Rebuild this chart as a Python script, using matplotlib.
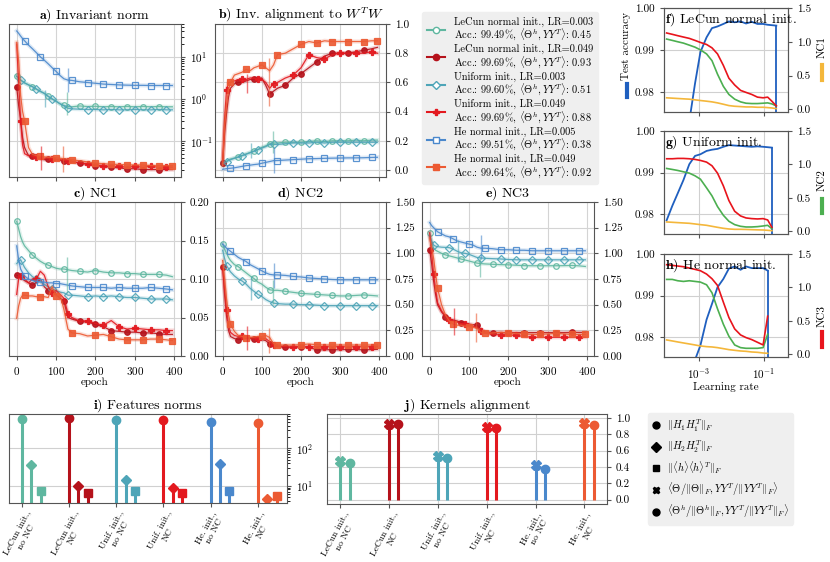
import matplotlib
matplotlib.use('Agg')
import matplotlib.pyplot as plt
from matplotlib.lines import Line2D
from matplotlib.ticker import FormatStrFormatter
import numpy as np

plt.rcParams['font.family'] = 'cmr10'
plt.rcParams['mathtext.fontset'] = 'cm'
plt.rcParams['axes.formatter.use_mathtext'] = True
plt.rcParams['axes.unicode_minus'] = False

# ---------------- training runs (panels a-e) ----------------
names = ['LeCun normal init., LR=0.003', 'LeCun normal init., LR=0.049',
         'Uniform init., LR=0.003', 'Uniform init., LR=0.049',
         'He normal init., LR=0.005', 'He normal init., LR=0.049']
test_acc = ['99.49', '99.69', '99.60', '99.69', '99.51', '99.64']
kernel_align = ['0.45', '0.93', '0.51', '0.88', '0.38', '0.92']
colors = ['#5fb7a0', '#b5121b', '#4ea5b8', '#e3191f', '#4a88cc', '#ec5a33']
markers = ['o', 'o', 'D', 'P', 's', 's']
filled = [False, True, False, True, False, True]

epochs = [0, 5, 10, 15, 20, 30, 40, 50, 60, 70, 80, 90, 100, 110, 120, 130, 140,
          160, 180, 200, 220, 240, 260, 280, 300, 320, 340, 360, 380, 395]
mark_idx = [[0, 6, 10, 14, 17, 19, 21, 23, 25, 27],
            [0, 6, 10, 14, 17, 19, 21, 23, 25, 27],
            [2, 7, 11, 15, 18, 20, 22, 24, 26, 28],
            [2, 7, 11, 15, 18, 20, 22, 24, 26, 28],
            [4, 8, 12, 16, 18, 20, 22, 24, 26, 28],
            [4, 8, 12, 16, 19, 21, 23, 25, 27, 29]]
mark_epoch = [128, None, 72, 62, 130, 118]

inv_norm = [
    [3.5, 3.1, 2.8, 2.6, 2.4, 2.15, 1.95, 1.7, 1.5, 1.36, 1.15, 1.0, 0.88, 0.76, 0.7, 0.66, 0.65,
     0.68, 0.66, 0.67, 0.65, 0.66, 0.65, 0.66, 0.65, 0.66, 0.65, 0.66, 0.65, 0.65],
    [1.9, 0.7, 0.32, 0.12, 0.07, 0.045, 0.043, 0.04, 0.038, 0.036, 0.037, 0.036, 0.036, 0.035, 0.034,
     0.033, 0.032, 0.03, 0.028, 0.026, 0.025, 0.024, 0.023, 0.022, 0.022, 0.021, 0.021, 0.021, 0.021, 0.021],
    [3.4, 3.1, 2.8, 2.6, 2.4, 2.15, 1.95, 1.72, 1.52, 1.35, 1.15, 1.0, 0.88, 0.77, 0.68, 0.6, 0.58,
     0.57, 0.56, 0.56, 0.55, 0.56, 0.55, 0.55, 0.56, 0.55, 0.55, 0.56, 0.55, 0.55],
    [20, 2.5, 0.3, 0.08, 0.05, 0.045, 0.043, 0.042, 0.04, 0.039, 0.04, 0.038, 0.037, 0.036, 0.035,
     0.034, 0.033, 0.03, 0.029, 0.027, 0.026, 0.025, 0.025, 0.024, 0.025, 0.024, 0.025, 0.024, 0.024, 0.024],
    [41, 36, 31, 27, 24, 19, 15.5, 12.5, 10, 8.3, 6.8, 5.5, 4.5, 3.6, 3.0, 2.8, 2.75,
     2.55, 2.45, 2.35, 2.25, 2.2, 2.15, 2.12, 2.1, 2.1, 2.08, 2.08, 2.08, 2.08],
    [22, 8, 1.2, 0.5, 0.3, 0.07, 0.048, 0.045, 0.043, 0.042, 0.041, 0.041, 0.04, 0.039, 0.038,
     0.037, 0.036, 0.034, 0.032, 0.03, 0.029, 0.028, 0.028, 0.027, 0.027, 0.027, 0.026, 0.026, 0.026, 0.026],
]
inv_align = [
    [0.05, 0.055, 0.06, 0.07, 0.075, 0.082, 0.09, 0.1, 0.11, 0.12, 0.13, 0.14, 0.155, 0.165, 0.18,
     0.185, 0.185, 0.19, 0.19, 0.19, 0.195, 0.2, 0.195, 0.2, 0.2, 0.2, 0.205, 0.2, 0.205, 0.205],
    [0.05, 0.25, 0.39, 0.5, 0.56, 0.59, 0.6, 0.6, 0.61, 0.62, 0.62, 0.63, 0.63, 0.58, 0.52,
     0.54, 0.56, 0.58, 0.63, 0.66, 0.7, 0.74, 0.78, 0.8, 0.8, 0.8, 0.81, 0.82, 0.83, 0.84],
    [0.045, 0.05, 0.055, 0.065, 0.07, 0.08, 0.088, 0.098, 0.108, 0.118, 0.128, 0.14, 0.15, 0.16, 0.175,
     0.175, 0.175, 0.18, 0.185, 0.185, 0.185, 0.19, 0.185, 0.19, 0.19, 0.19, 0.19, 0.19, 0.19, 0.19],
    [0.05, 0.35, 0.55, 0.6, 0.6, 0.61, 0.62, 0.62, 0.62, 0.63, 0.63, 0.62, 0.62, 0.6, 0.56,
     0.59, 0.6, 0.63, 0.65, 0.7, 0.79, 0.77, 0.76, 0.79, 0.8, 0.8, 0.8, 0.8, 0.81, 0.8],
    [0.005, 0.007, 0.009, 0.011, 0.012, 0.015, 0.02, 0.025, 0.03, 0.033, 0.037, 0.04, 0.046, 0.052, 0.058,
     0.064, 0.065, 0.068, 0.071, 0.074, 0.077, 0.078, 0.08, 0.081, 0.082, 0.083, 0.083, 0.084, 0.086, 0.087],
    [0.03, 0.3, 0.45, 0.55, 0.6, 0.65, 0.66, 0.67, 0.69, 0.68, 0.7, 0.71, 0.72, 0.7, 0.68,
     0.72, 0.79, 0.8, 0.83, 0.86, 0.88, 0.87, 0.885, 0.88, 0.88, 0.88, 0.88, 0.88, 0.885, 0.885],
]
nc1 = [
    [0.175, 0.165, 0.155, 0.148, 0.143, 0.137, 0.131, 0.127, 0.123, 0.12, 0.118, 0.116, 0.114, 0.113, 0.113,
     0.112, 0.111, 0.11, 0.109, 0.111, 0.109, 0.108, 0.108, 0.107, 0.107, 0.106, 0.106, 0.106, 0.105, 0.103],
    [0.105, 0.104, 0.103, 0.1, 0.098, 0.095, 0.092, 0.095, 0.1, 0.09, 0.085, 0.082, 0.08, 0.075, 0.071,
     0.05, 0.048, 0.045, 0.044, 0.041, 0.038, 0.033, 0.032, 0.031, 0.031, 0.03, 0.03, 0.029, 0.028, 0.028],
    [0.12, 0.123, 0.125, 0.12, 0.115, 0.108, 0.103, 0.1, 0.097, 0.093, 0.09, 0.087, 0.085, 0.083, 0.082,
     0.079, 0.079, 0.078, 0.077, 0.078, 0.077, 0.078, 0.077, 0.076, 0.076, 0.075, 0.074, 0.074, 0.074, 0.073],
    [0.08, 0.1, 0.104, 0.105, 0.1, 0.095, 0.1, 0.1, 0.11, 0.105, 0.09, 0.082, 0.085, 0.08, 0.075,
     0.055, 0.05, 0.045, 0.046, 0.042, 0.04, 0.046, 0.038, 0.035, 0.036, 0.035, 0.034, 0.034, 0.033, 0.033],
    [0.143, 0.125, 0.113, 0.108, 0.104, 0.1, 0.098, 0.097, 0.096, 0.096, 0.095, 0.095, 0.094, 0.094, 0.093,
     0.092, 0.091, 0.09, 0.089, 0.089, 0.089, 0.088, 0.089, 0.088, 0.088, 0.088, 0.089, 0.088, 0.087, 0.086],
    [0.049, 0.065, 0.075, 0.079, 0.079, 0.078, 0.078, 0.077, 0.077, 0.077, 0.076, 0.09, 0.078, 0.08, 0.06,
     0.035, 0.03, 0.029, 0.026, 0.027, 0.028, 0.025, 0.022, 0.021, 0.021, 0.021, 0.022, 0.022, 0.021, 0.02],
]
nc2 = [
    [1.09, 1.04, 1.0, 0.96, 0.93, 0.89, 0.87, 0.84, 0.81, 0.78, 0.755, 0.72, 0.7, 0.67, 0.645,
     0.64, 0.64, 0.63, 0.62, 0.61, 0.605, 0.6, 0.595, 0.59, 0.585, 0.585, 0.59, 0.595, 0.59, 0.585],
    [0.87, 0.6, 0.39, 0.25, 0.19, 0.17, 0.16, 0.165, 0.17, 0.17, 0.17, 0.165, 0.16, 0.15, 0.117,
     0.1, 0.09, 0.085, 0.09, 0.09, 0.085, 0.06, 0.06, 0.062, 0.06, 0.065, 0.062, 0.06, 0.062, 0.065],
    [1.03, 0.95, 0.88, 0.85, 0.82, 0.78, 0.75, 0.73, 0.7, 0.66, 0.63, 0.6, 0.58, 0.55, 0.53,
     0.515, 0.51, 0.505, 0.505, 0.5, 0.5, 0.495, 0.49, 0.49, 0.49, 0.49, 0.49, 0.49, 0.49, 0.49],
    [0.87, 0.65, 0.45, 0.3, 0.23, 0.2, 0.19, 0.195, 0.185, 0.18, 0.175, 0.17, 0.175, 0.17, 0.14,
     0.107, 0.1, 0.09, 0.085, 0.09, 0.09, 0.09, 0.09, 0.09, 0.09, 0.09, 0.09, 0.09, 0.09, 0.09],
    [1.09, 1.07, 1.05, 1.035, 1.02, 0.99, 0.96, 0.94, 0.92, 0.89, 0.87, 0.85, 0.83, 0.81, 0.795,
     0.79, 0.79, 0.785, 0.775, 0.77, 0.76, 0.755, 0.75, 0.745, 0.742, 0.742, 0.742, 0.742, 0.742, 0.742],
    [0.93, 0.75, 0.55, 0.4, 0.31, 0.24, 0.2, 0.19, 0.18, 0.18, 0.185, 0.19, 0.19, 0.2, 0.18,
     0.12, 0.107, 0.107, 0.107, 0.11, 0.117, 0.11, 0.107, 0.107, 0.107, 0.107, 0.107, 0.107, 0.107, 0.107],
]
nc3 = [
    [1.2, 1.1, 1.05, 1.03, 1.02, 1.0, 0.985, 0.975, 0.965, 0.955, 0.944, 0.935, 0.925, 0.915, 0.905,
     0.9, 0.897, 0.893, 0.89, 0.888, 0.884, 0.88, 0.879, 0.879, 0.879, 0.879, 0.88, 0.882, 0.878, 0.872],
    [1.035, 0.9, 0.73, 0.6, 0.5, 0.43, 0.384, 0.36, 0.35, 0.34, 0.325, 0.32, 0.31, 0.305, 0.3,
     0.26, 0.235, 0.228, 0.228, 0.228, 0.228, 0.228, 0.228, 0.228, 0.228, 0.228, 0.228, 0.23, 0.23, 0.23],
    [1.165, 1.12, 1.08, 1.07, 1.065, 1.06, 1.058, 1.055, 1.04, 1.02, 1.005, 1.0, 0.99, 0.975, 0.96,
     0.955, 0.952, 0.948, 0.945, 0.94, 0.937, 0.937, 0.937, 0.937, 0.937, 0.937, 0.937, 0.937, 0.937, 0.937],
    [1.2, 1.0, 0.8, 0.65, 0.52, 0.44, 0.39, 0.35, 0.34, 0.33, 0.315, 0.31, 0.3, 0.29, 0.28,
     0.24, 0.225, 0.21, 0.205, 0.205, 0.2, 0.19, 0.182, 0.182, 0.182, 0.182, 0.182, 0.182, 0.182, 0.182],
    [1.30, 1.27, 1.25, 1.23, 1.21, 1.19, 1.17, 1.16, 1.14, 1.12, 1.11, 1.10, 1.09, 1.08, 1.06,
     1.05, 1.05, 1.045, 1.035, 1.035, 1.03, 1.03, 1.025, 1.025, 1.025, 1.025, 1.025, 1.025, 1.025, 1.025],
    [1.15, 1.05, 0.95, 0.8, 0.66, 0.5, 0.4, 0.34, 0.31, 0.3, 0.3, 0.29, 0.286, 0.28, 0.27,
     0.23, 0.22, 0.225, 0.23, 0.225, 0.22, 0.215, 0.21, 0.21, 0.215, 0.22, 0.215, 0.21, 0.21, 0.21],
]
# vertical marks (run index, low, high) per panel
marks_a = [(0, 0.42, 1.49), (2, 0.66, 1.63), (4, 1.49, 5.3), (3, 0.021, 0.078), (5, 0.018, 0.075)]
marks_b = [(0, 0.115, 0.264), (2, 0.08, 0.184), (4, -0.023, 0.16), (3, 0.53, 0.655), (5, 0.437, 0.77)]
marks_c = [(0, 0.082, 0.129)]
marks_d = [(0, 0.51, 0.74), (2, 0.55, 0.78), (4, 0.66, 0.905), (3, 0.06, 0.29), (5, 0.026, 0.27)]
marks_e = [(0, 0.77, 0.96), (2, 0.92, 1.13), (4, 0.94, 1.18), (3, 0.2, 0.47), (5, 0.14, 0.42)]

# ---------------- learning-rate sweeps (panels f-h) ----------------
lr = [1e-4, 1.5e-4, 2.2e-4, 3.3e-4, 5e-4, 7.5e-4, 1.1e-3, 1.7e-3, 2.5e-3, 3.7e-3, 5.6e-3,
      8.3e-3, 0.0125, 0.019, 0.028, 0.042, 0.063, 0.094, 0.13, 0.175, 0.24]
nan = np.nan
acc_f = [0.93, 0.94, 0.95, 0.96, 0.973, 0.982, 0.9895, 0.993, 0.9952, 0.9956, 0.9962, 0.9968, 0.9966,
         0.9968, 0.9963, 0.9967, 0.9962, 0.9962, 0.996, 0.9959, 0.9958]
nc1_f = [0.17, 0.165, 0.16, 0.155, 0.15, 0.14, 0.13, 0.12, 0.11, 0.095, 0.075, 0.055, 0.045, 0.04,
         0.035, 0.035, 0.03, 0.03, 0.025, 0.02, 0.01]
nc2_f = [1.04, 1.02, 1.0, 0.98, 0.95, 0.92, 0.88, 0.82, 0.72, 0.52, 0.34, 0.22, 0.15, 0.11, 0.09,
         0.085, 0.085, 0.09, 0.095, 0.08, 0.05]
nc3_f = [1.13, 1.11, 1.09, 1.07, 1.05, 1.02, 0.99, 0.96, 0.91, 0.82, 0.65, 0.46, 0.36, 0.28, 0.25,
         0.22, 0.18, 0.17, 0.18, 0.12, 0.05]
acc_g = [0.9785, 0.982, 0.985, 0.9882, 0.992, 0.994, 0.9944, 0.9952, 0.9955, 0.9957, 0.9962, 0.9966,
         0.9965, 0.9964, 0.9963, 0.9962, 0.9963, 0.9962, 0.9961, 0.996, nan]
nc1_g = [0.14, 0.135, 0.13, 0.125, 0.12, 0.11, 0.1, 0.09, 0.075, 0.06, 0.045, 0.035, 0.03, 0.03,
         0.028, 0.025, 0.022, 0.02, 0.015, 0.01, nan]
nc2_g = [0.94, 0.925, 0.91, 0.89, 0.87, 0.83, 0.78, 0.65, 0.53, 0.37, 0.24, 0.15, 0.10, 0.075,
         0.065, 0.065, 0.07, 0.08, 0.09, 0.04, nan]
nc3_g = [1.085, 1.085, 1.09, 1.09, 1.085, 1.075, 1.06, 1.035, 0.98, 0.87, 0.68, 0.46, 0.30, 0.23,
         0.2, 0.19, 0.185, 0.19, 0.17, 0.06, nan]
acc_h = [0.96, 0.965, 0.968, 0.971, 0.973, 0.9745, 0.978, 0.9842, 0.988, 0.992, 0.994, 0.9965, 0.997,
         0.9962, 0.997, 0.9966, 0.9966, 0.9966, 0.996, nan, nan]
nc1_h = [0.215, 0.2, 0.185, 0.17, 0.155, 0.14, 0.125, 0.115, 0.11, 0.1, 0.085, 0.07, 0.06, 0.05,
         0.045, 0.035, 0.03, 0.02, 0.015, nan, nan]
nc2_h = [1.12, 1.12, 1.1, 1.09, 1.1, 1.09, 1.08, 1.04, 0.92, 0.68, 0.45, 0.27, 0.14, 0.1, 0.09,
         0.09, 0.09, 0.1, 0.3, nan, nan]
nc3_h = [1.34, 1.33, 1.32, 1.31, 1.29, 1.27, 1.25, 1.2, 1.13, 1.03, 0.78, 0.55, 0.38, 0.29, 0.25,
         0.22, 0.18, 0.14, 0.57, nan, nan]

# ---------------- summary (panels i-j) ----------------
cats = ['LeCun init.,\nno NC', 'LeCun init.,\nNC', 'Unif. init.,\nno NC',
        'Unif. init.,\nNC', 'He. init.,\nno NC', 'He. init.,\nNC']
h1_norm = [600, 640, 565, 565, 500, 480]
h2_norm = [36, 10.2, 14.4, 8.7, 38.4, 4.4]
hmean_norm = [7.5, 6.6, 7.5, 6.3, 7.1, 5.4]
theta_align = [0.478, 0.93, 0.53, 0.89, 0.43, 0.94]
theta_h_align = [0.45, 0.93, 0.51, 0.88, 0.38, 0.92]

c_acc, c_nc1, c_nc2, c_nc3 = '#1f5fbf', '#f4b73b', '#4caf50', '#e8141c'

W, H = 830, 562
fig = plt.figure(figsize=(8.3, 5.62), dpi=100)


def axes_px(l, t, r, b):
    return fig.add_axes([l / W, 1 - b / H, (r - l) / W, (b - t) / H])


def frame(ax):
    for s in ax.spines.values():
        s.set_color('#555555')
    ax.tick_params(labelsize=8, length=3, color='#555555')
    ax.set_axisbelow(True)


def epoch_panel(box, vals, marks, title, ylim, yticks=None, log=False, xlabel=False):
    ax = axes_px(*box)
    if log:
        ax.set_yscale('log')
    for k in range(6):
        ax.plot(epochs, vals[k], color=colors[k], lw=3, alpha=0.18)
        ax.plot(epochs, vals[k], color=colors[k], lw=0.9, alpha=0.9,
                marker=markers[k], ms=4, mew=0.9, markevery=mark_idx[k],
                mfc=colors[k] if filled[k] else 'none')
    for k, lo, hi in marks:
        ax.vlines(mark_epoch[k], lo, hi, color=colors[k], lw=1, alpha=0.6)
    ax.set_xlim(-19.5, 417)
    ax.set_ylim(*ylim)
    ax.set_xticks([0, 100, 200, 300, 400])
    if yticks is not None:
        ax.set_yticks(yticks)
    if xlabel:
        ax.set_xlabel('epoch', fontsize=8, labelpad=0)
    else:
        ax.set_xticklabels([])
    ax.yaxis.tick_right()
    ax.grid(True, color='#d4d4d4', lw=0.8)
    frame(ax)
    ax.set_title(title, fontsize=10, pad=3)
    return ax


epoch_panel((9, 24, 181, 177), inv_norm, marks_a, r'$\mathbf{a)}$ Invariant norm', (0.014, 60), log=True)
ax_b = epoch_panel((215, 24, 386, 177), inv_align, marks_b, r'$\mathbf{b)}$ Inv. alignment to $W^TW$',
                   (-0.048, 1.0), yticks=[0, 0.2, 0.4, 0.6, 0.8, 1.0])
ax_b.yaxis.set_major_formatter(FormatStrFormatter('%.1f'))
ax_c = epoch_panel((9, 202, 181, 356), nc1, marks_c, r'$\mathbf{c)}$ NC1', (0, 0.2),
                   yticks=[0, 0.05, 0.1, 0.15, 0.2], xlabel=True)
ax_c.yaxis.set_major_formatter(FormatStrFormatter('%.2f'))
ax_d = epoch_panel((215, 202, 386, 356), nc2, marks_d, r'$\mathbf{d)}$ NC2', (0, 1.5),
                   yticks=[0, 0.25, 0.5, 0.75, 1.0, 1.25, 1.5], xlabel=True)
ax_d.yaxis.set_major_formatter(FormatStrFormatter('%.2f'))
ax_e = epoch_panel((422, 202, 594, 356), nc3, marks_e, r'$\mathbf{e)}$ NC3', (0, 1.5),
                   yticks=[0, 0.25, 0.5, 0.75, 1.0, 1.25, 1.5], xlabel=True)
ax_e.yaxis.set_major_formatter(FormatStrFormatter('%.2f'))

# legend for the runs
handles = []
for k in range(6):
    lab = (names[k] + '\n' + 'Acc.: $\\mathbf{' + test_acc[k] + '\\%}$, '
           + '$\\langle\\Theta^h, YY^T\\rangle$: $\\mathbf{' + kernel_align[k] + '}$')
    handles.append(Line2D([], [], color=colors[k], lw=1.5, marker=markers[k], ms=4.5, mew=1,
                          mfc=colors[k] if filled[k] else 'white', label=lab))
leg = fig.legend(handles=handles, loc='upper left', bbox_to_anchor=(422 / W, 1 - 12 / H),
                 fontsize=7.5, facecolor='#efefef', edgecolor='#efefef', framealpha=1,
                 handlelength=1.8, handletextpad=0.8, labelspacing=0.2, borderpad=0.45,
                 borderaxespad=0)
for t in leg.get_texts():
    t.set_linespacing(0.95)

# learning-rate panels
lr_panels = [((664, 8, 788, 112), acc_f, nc1_f, nc2_f, nc3_f, r'$\mathbf{f)}$ LeCun normal init.'),
             ((664, 131, 788, 234), acc_g, nc1_g, nc2_g, nc3_g, r'$\mathbf{g)}$ Uniform init.'),
             ((664, 254, 788, 357), acc_h, nc1_h, nc2_h, nc3_h, r'$\mathbf{h)}$ He normal init.')]
for n, (box, acc, n1, n2, n3, title) in enumerate(lr_panels):
    ax = axes_px(*box)
    ax.set_xscale('log')
    last = int(np.where(~np.isnan(acc))[0][-1])
    ax.plot(lr, acc, color=c_acc, lw=1.3, zorder=3)
    ax.plot([lr[last], lr[last]], [acc[last], 0.97], color=c_acc, lw=1.3, zorder=3)
    ax.set_xlim(8.3e-5, 0.55)
    ax.set_ylim(0.9752, 1.0)
    ax.set_yticks([0.98, 0.99, 1.0])
    ax.yaxis.set_major_formatter(FormatStrFormatter('%.2f'))
    ax.set_xticks([1e-3, 1e-1])
    if n < 2:
        ax.set_xticklabels([])
    else:
        ax.set_xlabel('Learning rate', fontsize=8, labelpad=1)
    ax.grid(True, which='major', color='#d0d0d0', lw=0.8)
    frame(ax)
    ax2 = ax.twinx()
    ax2.plot(lr, n1, color=c_nc1, lw=1.2)
    ax2.plot(lr, n2, color=c_nc2, lw=1.2)
    ax2.plot(lr, n3, color=c_nc3, lw=1.2)
    ax2.set_ylim(-0.04, 1.5)
    ax2.set_yticks([0, 0.5, 1.0, 1.5])
    ax2.yaxis.set_major_formatter(FormatStrFormatter('%.1f'))
    frame(ax2)
    ax2.text(0.01, 0.97, title, transform=ax2.transAxes, va='top', ha='left', fontsize=10)

fig.text(626 / W, 1 - 46 / H, 'Test accuracy', rotation=90, ha='center', va='center', fontsize=8)
fig.add_artist(Line2D([627 / W] * 2, [1 - 84 / H, 1 - 97 / H], color=c_acc, lw=3))
for lab, col, ty, by0, by1 in [('NC1', c_nc1, 47, 65, 80), ('NC2', c_nc2, 180, 199, 213),
                               ('NC3', c_nc3, 316, 332, 347)]:
    fig.text(822 / W, 1 - ty / H, lab, rotation=90, ha='center', va='center', fontsize=8)
    fig.add_artist(Line2D([822 / W] * 2, [1 - by0 / H, 1 - by1 / H], color=col, lw=3))

# i) features norms
x = np.arange(6)
ax_i = axes_px(9, 414, 287, 503)
ax_i.set_yscale('log')
for vals, off, mk, ms in [(h1_norm, 0.0, 'o', 6), (h2_norm, 0.2, 'D', 5.5), (hmean_norm, 0.4, 's', 5.5)]:
    for k in range(6):
        ax_i.vlines(x[k] + off, 1, vals[k], color=colors[k], lw=2.2)
        ax_i.plot(x[k] + off, vals[k], marker=mk, ms=ms, color=colors[k], ls='none')
ax_i.set_ylim(3.5, 810)
ax_i.set_xlim(-0.27, 5.62)
ax_i.yaxis.tick_right()
ax_i.set_xticks(x)
ax_i.set_xticklabels(cats, rotation=62, multialignment='center')
ax_i.grid(True, color='#d0d0d0', lw=0.8)
frame(ax_i)
ax_i.tick_params(axis='x', labelsize=6.8, pad=1.5)
ax_i.set_title(r'$\mathbf{i)}$ Features norms', fontsize=10, pad=3)

# j) kernels alignment
ax_j = axes_px(327, 414, 607, 504)
for vals, off, mk, ms in [(theta_align, 0.0, 'X', 6.5), (theta_h_align, 0.2, 'o', 6)]:
    for k in range(6):
        ax_j.vlines(x[k] + off, 0, vals[k], color=colors[k], lw=2.2)
        ax_j.plot(x[k] + off, vals[k], marker=mk, ms=ms, color=colors[k], ls='none')
ax_j.set_ylim(-0.053, 1.05)
ax_j.set_xlim(-0.26, 5.46)
ax_j.set_yticks([0, 0.2, 0.4, 0.6, 0.8, 1.0])
ax_j.yaxis.set_major_formatter(FormatStrFormatter('%.1f'))
ax_j.yaxis.tick_right()
ax_j.set_xticks(x)
ax_j.set_xticklabels(cats, rotation=62, multialignment='center')
ax_j.grid(True, color='#d0d0d0', lw=0.8)
frame(ax_j)
ax_j.tick_params(axis='x', labelsize=6.8, pad=1.5)
ax_j.set_title(r'$\mathbf{j)}$ Kernels alignment', fontsize=10, pad=3)

# marker legend
mk_handles = [
    Line2D([], [], ls='none', marker='o', ms=5, color='black', label=r'$\|H_1H_1^T\|_F$'),
    Line2D([], [], ls='none', marker='D', ms=5, color='black', label=r'$\|H_2H_2^T\|_F$'),
    Line2D([], [], ls='none', marker='s', ms=5, color='black', label=r'$\|\langle h\rangle\langle h\rangle^T\|_F$'),
    Line2D([], [], ls='none', marker='X', ms=5, color='black',
           label=r'$\langle\Theta/\|\Theta\|_F, YY^T/\|YY^T\|_F\rangle$'),
    Line2D([], [], ls='none', marker='o', ms=5, color='black',
           label=r'$\langle\Theta^h/\|\Theta^h\|_F, YY^T/\|YY^T\|_F\rangle$'),
]
fig.legend(handles=mk_handles, loc='upper left', bbox_to_anchor=(648 / W, 1 - 413 / H),
           fontsize=7.5, facecolor='#efefef', edgecolor='#efefef', framealpha=1,
           handlelength=0.8, handletextpad=0.6, labelspacing=0.45, borderaxespad=0)

fig.savefig('out.png', dpi=100)
